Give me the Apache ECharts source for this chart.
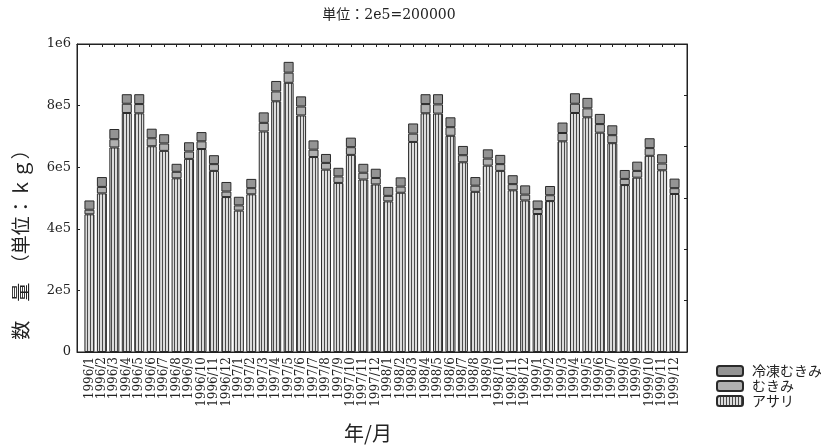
<!DOCTYPE html>
<html>
<head>
<meta charset="utf-8">
<script src="https://cdn.jsdelivr.net/npm/echarts@6/dist/echarts.min.js"></script>
<style>
  html, body { margin: 0; padding: 0; background: #fff; }
  #chart { width: 821px; height: 448px; }
</style>
</head>
<body>
<div id="chart"></div>
<script>
// Monthly landings, Jan 1996 – Dec 1999 (kg)
const months = [
  '1996/1','1996/2','1996/3','1996/4','1996/5','1996/6','1996/7','1996/8','1996/9','1996/10','1996/11','1996/12',
  '1997/1','1997/2','1997/3','1997/4','1997/5','1997/6','1997/7','1997/8','1997/9','1997/10','1997/11','1997/12',
  '1998/1','1998/2','1998/3','1998/4','1998/5','1998/6','1998/7','1998/8','1998/9','1998/10','1998/11','1998/12',
  '1999/1','1999/2','1999/3','1999/4','1999/5','1999/6','1999/7','1999/8','1999/9','1999/10','1999/11','1999/12'
];

// アサリ (whole clams)
const asari = [
  447000, 515000, 664000, 776000, 775000, 668000, 653000, 564000, 627000, 659000, 588000, 503000,
  459000, 512000, 716000, 814000, 874000, 768000, 633000, 592000, 549000, 640000, 560000, 544000,
  489000, 517000, 682000, 775000, 774000, 702000, 616000, 520000, 605000, 588000, 525000, 492000,
  448000, 490000, 684000, 776000, 762000, 712000, 678000, 542000, 566000, 637000, 590000, 513000
];

// むきみ (shucked)
const mukimi = [
  15000, 21000, 27000, 30000, 30000, 26000, 24000, 21000, 24000, 25000, 22000, 18000,
  17000, 20000, 28000, 32000, 33000, 29000, 24000, 22000, 21000, 25000, 22000, 21000,
  18000, 20000, 27000, 30000, 30000, 28000, 23000, 20000, 23000, 22000, 20000, 19000,
  16000, 19000, 27000, 30000, 29000, 28000, 26000, 20000, 22000, 25000, 22000, 19000
];

// 冷凍むきみ (frozen shucked)
const reitouMukimi = [
  30000, 32000, 33000, 31000, 32000, 31000, 30000, 26000, 30000, 30000, 29000, 31000,
  28000, 30000, 34000, 34000, 35000, 33000, 30000, 29000, 28000, 31000, 29000, 30000,
  29000, 30000, 33000, 32000, 33000, 32000, 30000, 28000, 30000, 30000, 29000, 30000,
  28000, 30000, 34000, 34000, 34000, 33000, 32000, 29000, 30000, 32000, 30000, 31000
];

const seriesNames = ['アサリ', 'むきみ', '冷凍むきみ'];
const legendOrder = ['冷凍むきみ', 'むきみ', 'アサリ'];
const yTickLabels = ['0', '2e5', '4e5', '6e5', '8e5', '1e6'];
const yStep = 200000;
const yMax = 1000000;

const serifFont = '"DejaVu Serif", "Noto Sans CJK JP", serif';
const cjkFont = '"Noto Sans CJK JP", sans-serif';
const ink = '#222';

// Frame box; the bar band sits half a category inside it on each side
const frame = { left: 77, right: 134, top: 44, bottom: 96 };
const slot = (821 - frame.left - frame.right) / (months.length + 1);

// vertical hatch used for the アサリ segments
function stripeCanvas() {
  const c = document.createElement('canvas');
  c.width = 3; c.height = 4;
  const g = c.getContext('2d');
  g.fillStyle = '#dcdcdc';
  g.fillRect(0, 0, 3, 4);
  g.fillStyle = '#4a4a4a';
  g.fillRect(0, 0, 1, 4);
  return c;
}

const fills = {
  'アサリ': { image: stripeCanvas(), repeat: 'repeat' },
  'むきみ': '#b0b0b0',
  '冷凍むきみ': '#949494'
};
const dataBySeries = {
  'アサリ': asari,
  'むきみ': mukimi,
  '冷凍むきみ': reitouMukimi
};

const frameLine = { show: true, onZero: false, lineStyle: { color: ink } };
const innerTick = { show: true, inside: true, length: 3, lineStyle: { color: ink } };

const chart = echarts.init(document.getElementById('chart'), null, { renderer: 'canvas' });

chart.setOption({
  animation: false,
  backgroundColor: '#fff',
  title: {
    text: '単位：2e5=200000',
    left: 384,
    top: 3,
    textAlign: 'center',
    textStyle: { fontSize: 14, fontWeight: 'normal', color: ink, fontFamily: serifFont }
  },
  legend: {
    data: legendOrder,
    orient: 'vertical',
    left: 711,
    top: 359,
    itemWidth: 26,
    itemHeight: 10,
    itemGap: 1,
    textStyle: { fontSize: 14, color: ink, fontFamily: cjkFont, padding: [0, 0, 0, 4] }
  },
  grid: [
    Object.assign({ show: true, borderColor: ink, borderWidth: 1, backgroundColor: 'transparent' }, frame),
    {
      left: frame.left + slot / 2,
      right: frame.right + slot / 2,
      top: frame.top,
      bottom: frame.bottom
    }
  ],
  xAxis: [
    {
      gridIndex: 0, type: 'value', position: 'bottom',
      min: -1, max: months.length, interval: 1,
      axisLine: frameLine,
      axisTick: { show: false }, axisLabel: { show: false }, splitLine: { show: false }
    },
    {
      gridIndex: 0, type: 'value', position: 'top',
      min: -1, max: months.length, interval: 1,
      axisLine: frameLine,
      axisTick: innerTick,
      axisLabel: { show: false }, splitLine: { show: false }
    },
    {
      gridIndex: 1, type: 'category', data: months, position: 'bottom',
      axisLine: { show: false }, axisTick: { show: false }, splitLine: { show: false },
      axisLabel: {
        interval: 0, rotate: 90, margin: 5, fontSize: 12, color: ink, fontFamily: serifFont
      }
    }
  ],
  yAxis: [
    {
      gridIndex: 0, type: 'value', position: 'left',
      min: 0, max: yMax, interval: yStep,
      axisLine: frameLine,
      axisTick: innerTick,
      splitLine: { show: false },
      axisLabel: {
        margin: 6, fontSize: 13, color: ink, fontFamily: serifFont,
        formatter: v => yTickLabels[Math.round(v / yStep)]
      }
    },
    {
      gridIndex: 0, type: 'value', position: 'right',
      min: 0, max: yMax, interval: yMax / 6,
      axisLine: frameLine,
      axisTick: innerTick,
      splitLine: { show: false }, axisLabel: { show: false }
    },
    {
      gridIndex: 1, type: 'value', min: 0, max: yMax, show: false
    }
  ],
  graphic: [
    {
      type: 'text',
      x: 21, y: 240,
      rotation: Math.PI / 2,
      style: {
        text: '数　量　（単位：ｋｇ）',
        fontSize: 19, fontFamily: cjkFont, fill: ink,
        align: 'center', verticalAlign: 'middle'
      }
    },
    {
      type: 'text',
      x: 368, y: 433,
      style: {
        text: '年/月',
        fontSize: 20, fontFamily: cjkFont, fill: ink,
        align: 'center', verticalAlign: 'middle'
      }
    }
  ],
  series: seriesNames.map(name => ({
    name: name,
    type: 'bar',
    stack: 'landings',
    xAxisIndex: 2,
    yAxisIndex: 2,
    barWidth: 10,
    itemStyle: { color: fills[name], borderColor: '#2a2a2a', borderWidth: 1 },
    data: dataBySeries[name]
  }))
});
</script>
</body>
</html>
